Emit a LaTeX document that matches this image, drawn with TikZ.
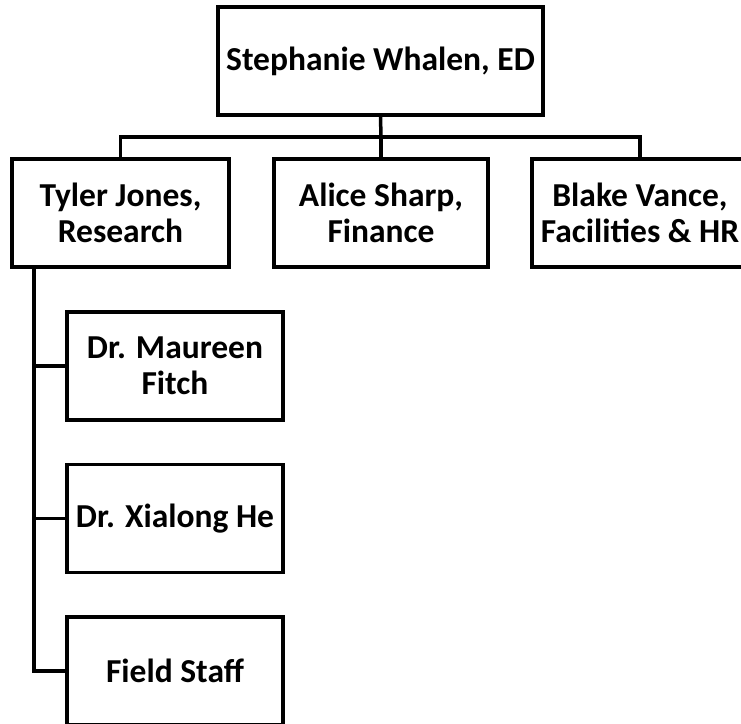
\documentclass[tikz,border=0pt]{standalone}
\usepackage{fontspec}
\setmainfont{Carlito}
\begin{document}
\begin{tikzpicture}[x=1pt,y=-1pt,
  orgbox/.style={draw=black,line width=3.5pt,fill=white,rectangle,minimum height=108pt,
    align=center,font=\fontsize{33.5}{36}\selectfont\bfseries,inner sep=0pt},
  link/.style={draw=black,line width=3.5pt}]
\useasboundingbox[fill=white] (0,0) rectangle (741,723);
\node[orgbox,minimum width=325pt] (top) at (380.5,61) {Stephanie Whalen, ED};
\node[orgbox,minimum width=217pt] (A) at (120.5,213) {Tyler Jones,\\Research};
\node[orgbox,minimum width=214pt] (B) at (381,213) {Alice Sharp,\\Finance};
\node[orgbox,minimum width=216pt] (C) at (640,213) {Blake Vance,\\Facilities \& HR};
\node[orgbox,minimum width=216pt] (D1) at (175,366) {Dr. Maureen\\Fitch};
\node[orgbox,minimum width=216pt] (D2) at (175,518.5) {Dr. Xialong He};
\node[orgbox,minimum width=216pt] (D3) at (175,671) {Field Staff};
\coordinate (bar) at (381,137);
\coordinate (trunk) at (34,267);
\draw[link] (top.south) -- (bar);
\draw[link] (bar) -- (B.north);
\draw[link] (A.north) |- (bar);
\draw[link] (bar) -| (C.north);
\draw[link] (trunk) |- (D3.west);
\draw[link] (D1.west) -- (D1.west -| trunk);
\draw[link] (D2.west) -- (D2.west -| trunk);
\end{tikzpicture}
\end{document}
